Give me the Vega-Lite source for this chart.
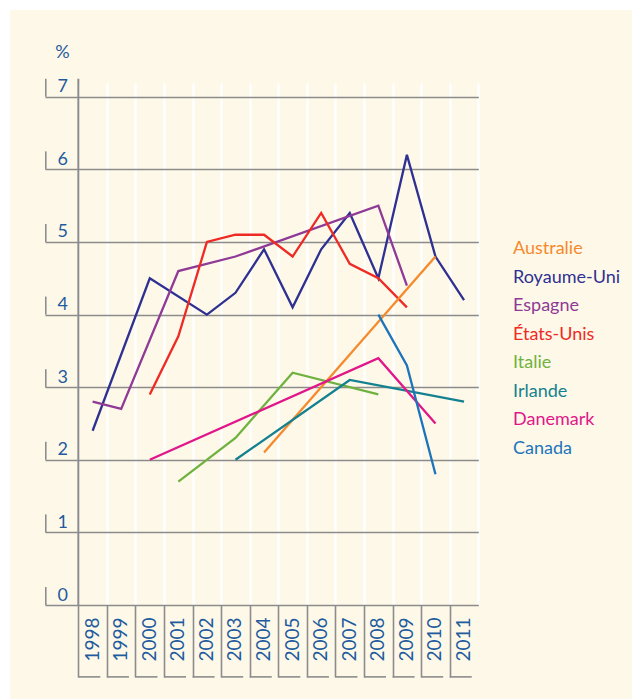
{
  "$schema": "https://vega.github.io/schema/vega-lite/v6.json",
  "width": 433.33,
  "height": 522,
  "autosize": {"type": "none"},
  "padding": {"left": 45, "top": 83, "right": 153.67, "bottom": 94},
  "background": "#fef8e8",
  "config": {"view": {"stroke": null}, "font": "Lato"},
  "datasets": {
    "series": [
      {"pays": "Royaume-Uni", "annee": 1998, "taux": 2.4},
      {"pays": "Royaume-Uni", "annee": 2000, "taux": 4.5},
      {"pays": "Royaume-Uni", "annee": 2002, "taux": 4.0},
      {"pays": "Royaume-Uni", "annee": 2003, "taux": 4.3},
      {"pays": "Royaume-Uni", "annee": 2004, "taux": 4.9},
      {"pays": "Royaume-Uni", "annee": 2005, "taux": 4.1},
      {"pays": "Royaume-Uni", "annee": 2006, "taux": 4.9},
      {"pays": "Royaume-Uni", "annee": 2007, "taux": 5.4},
      {"pays": "Royaume-Uni", "annee": 2008, "taux": 4.5},
      {"pays": "Royaume-Uni", "annee": 2009, "taux": 6.2},
      {"pays": "Royaume-Uni", "annee": 2010, "taux": 4.8},
      {"pays": "Royaume-Uni", "annee": 2011, "taux": 4.2},
      {"pays": "Espagne", "annee": 1998, "taux": 2.8},
      {"pays": "Espagne", "annee": 1999, "taux": 2.7},
      {"pays": "Espagne", "annee": 2001, "taux": 4.6},
      {"pays": "Espagne", "annee": 2003, "taux": 4.8},
      {"pays": "Espagne", "annee": 2008, "taux": 5.5},
      {"pays": "Espagne", "annee": 2009, "taux": 4.4},
      {"pays": "États-Unis", "annee": 2000, "taux": 2.9},
      {"pays": "États-Unis", "annee": 2001, "taux": 3.7},
      {"pays": "États-Unis", "annee": 2002, "taux": 5.0},
      {"pays": "États-Unis", "annee": 2003, "taux": 5.1},
      {"pays": "États-Unis", "annee": 2004, "taux": 5.1},
      {"pays": "États-Unis", "annee": 2005, "taux": 4.8},
      {"pays": "États-Unis", "annee": 2006, "taux": 5.4},
      {"pays": "États-Unis", "annee": 2007, "taux": 4.7},
      {"pays": "États-Unis", "annee": 2008, "taux": 4.5},
      {"pays": "États-Unis", "annee": 2009, "taux": 4.1},
      {"pays": "Australie", "annee": 2004, "taux": 2.1},
      {"pays": "Australie", "annee": 2010, "taux": 4.8},
      {"pays": "Italie", "annee": 2001, "taux": 1.7},
      {"pays": "Italie", "annee": 2003, "taux": 2.3},
      {"pays": "Italie", "annee": 2005, "taux": 3.2},
      {"pays": "Italie", "annee": 2008, "taux": 2.9},
      {"pays": "Irlande", "annee": 2003, "taux": 2.0},
      {"pays": "Irlande", "annee": 2007, "taux": 3.1},
      {"pays": "Irlande", "annee": 2011, "taux": 2.8},
      {"pays": "Danemark", "annee": 2000, "taux": 2.0},
      {"pays": "Danemark", "annee": 2008, "taux": 3.4},
      {"pays": "Danemark", "annee": 2010, "taux": 2.5},
      {"pays": "Canada", "annee": 2008, "taux": 4.0},
      {"pays": "Canada", "annee": 2009, "taux": 3.3},
      {"pays": "Canada", "annee": 2010, "taux": 1.8}
    ],
    "graduations": [{"v": 0}, {"v": 1}, {"v": 2}, {"v": 3}, {"v": 4}, {"v": 5}, {"v": 6}, {"v": 7}],
    "annees": [{"annee": 1998}, {"annee": 1999}, {"annee": 2000}, {"annee": 2001}, {"annee": 2002}, {"annee": 2003}, {"annee": 2004}, {"annee": 2005}, {"annee": 2006}, {"annee": 2007}, {"annee": 2008}, {"annee": 2009}, {"annee": 2010}, {"annee": 2011}],
    "un": [{}]
  },
  "layer": [
    {
      "data": {"name": "series"},
      "mark": {"type": "line", "strokeWidth": 2.3, "strokeJoin": "miter", "strokeCap": "butt"},
      "encoding": {
        "x": {
          "field": "annee", "type": "quantitative",
          "scale": {"domain": [1996.333, 2011.5], "nice": false, "zero": false},
          "axis": {
            "orient": "bottom",
            "title": null,
            "domain": false,
            "labels": false,
            "tickCount": 100,
            "values": [1997.5, 1998.5, 1999.5, 2000.5, 2001.5, 2002.5, 2003.5, 2004.5, 2005.5, 2006.5, 2007.5, 2008.5, 2009.5, 2010.5, 2011.5],
            "grid": true,
            "gridColor": "#ffffff",
            "gridWidth": 2.5,
            "ticks": true,
            "tickSize": 72,
            "tickWidth": 1.6,
            "tickColor": "#8c8c8c",
            "tickOpacity": {"condition": {"test": "datum.value > 2011.4", "value": 0}, "value": 1}
          }
        },
        "y": {
          "field": "taux", "type": "quantitative",
          "scale": {"domain": [0, 7.19], "nice": false, "zero": false},
          "axis": {
            "orient": "left",
            "tickCount": 100,
            "values": [0, 1, 2, 3, 4, 5, 6, 7],
            "format": "d",
            "title": "%",
            "titleAngle": 0,
            "titleX": 17,
            "titleY": -26,
            "titleAlign": "center",
            "titleBaseline": "alphabetic",
            "titleFontSize": 18,
            "titleFontWeight": "normal",
            "titleColor": "#1f5c9e",
            "domain": false,
            "ticks": false,
            "labelAlign": "left",
            "labelBaseline": "alphabetic",
            "labelPadding": -12,
            "labelOffset": -5,
            "labelFontSize": 18,
            "labelColor": "#1f5c9e",
            "grid": true,
            "gridColor": "#8c8c8c",
            "gridWidth": 1.6
          }
        },
        "color": {
          "field": "pays", "type": "nominal",
          "scale": {
            "domain": ["Australie", "Royaume-Uni", "Espagne", "États-Unis", "Italie", "Irlande", "Danemark", "Canada"],
            "range": ["#f58a2c", "#2e3192", "#8e3a96", "#ee2a24", "#6fb23f", "#13818f", "#e0178a", "#1c75bc"]
          },
          "legend": {
            "orient": "none",
            "legendX": 450,
            "legendY": 157,
            "title": null,
            "padding": 0,
            "symbolSize": 0,
            "symbolStrokeWidth": 0,
            "symbolOpacity": 0,
            "labelOffset": 0,
            "labelFontSize": 18,
            "labelFont": "Lato",
            "rowPadding": 10.5,
            "labelLimit": 200,
            "encode": {"labels": {"update": {"fill": {"scale": "color", "field": "value"}}}}
          }
        }
      }
    },
    {
      "data": {"name": "un"},
      "mark": {"type": "rule", "stroke": "#8c8c8c", "strokeWidth": 2},
      "encoding": {
        "x": {"datum": 1997.5, "type": "quantitative"},
        "y": {"datum": 0, "type": "quantitative"},
        "y2": {"datum": 7.25}
      }
    },
    {
      "data": {"name": "graduations"},
      "mark": {"type": "tick", "orient": "vertical", "size": 18, "thickness": 1.6, "color": "#8c8c8c", "yOffset": -9, "opacity": 1},
      "encoding": {
        "x": {"datum": 1996.36, "type": "quantitative"},
        "y": {"field": "v", "type": "quantitative"}
      }
    },
    {
      "data": {"name": "annees"},
      "mark": {"type": "tick", "orient": "horizontal", "size": 22, "thickness": 1.6, "color": "#8c8c8c", "xOffset": -3.3, "opacity": 1},
      "encoding": {
        "x": {"field": "annee", "type": "quantitative"},
        "y": {"datum": -0.99, "type": "quantitative"}
      }
    },
    {
      "data": {"name": "annees"},
      "mark": {"type": "text", "angle": 270, "align": "right", "baseline": "middle", "fontSize": 19, "font": "Lato", "color": "#1f5c9e"},
      "encoding": {
        "x": {"field": "annee", "type": "quantitative"},
        "y": {"datum": -0.17, "type": "quantitative"},
        "text": {"field": "annee", "type": "quantitative", "format": "d"}
      }
    },
    {
      "data": {"name": "un"},
      "mark": {"type": "rect", "fillOpacity": 0, "stroke": "#ffffff", "strokeWidth": 20},
      "encoding": {
        "x": {"datum": 1994.758, "type": "quantitative"},
        "x2": {"datum": 2030},
        "y": {"datum": 8.333, "type": "quantitative"},
        "y2": {"datum": -3}
      }
    }
  ]
}
